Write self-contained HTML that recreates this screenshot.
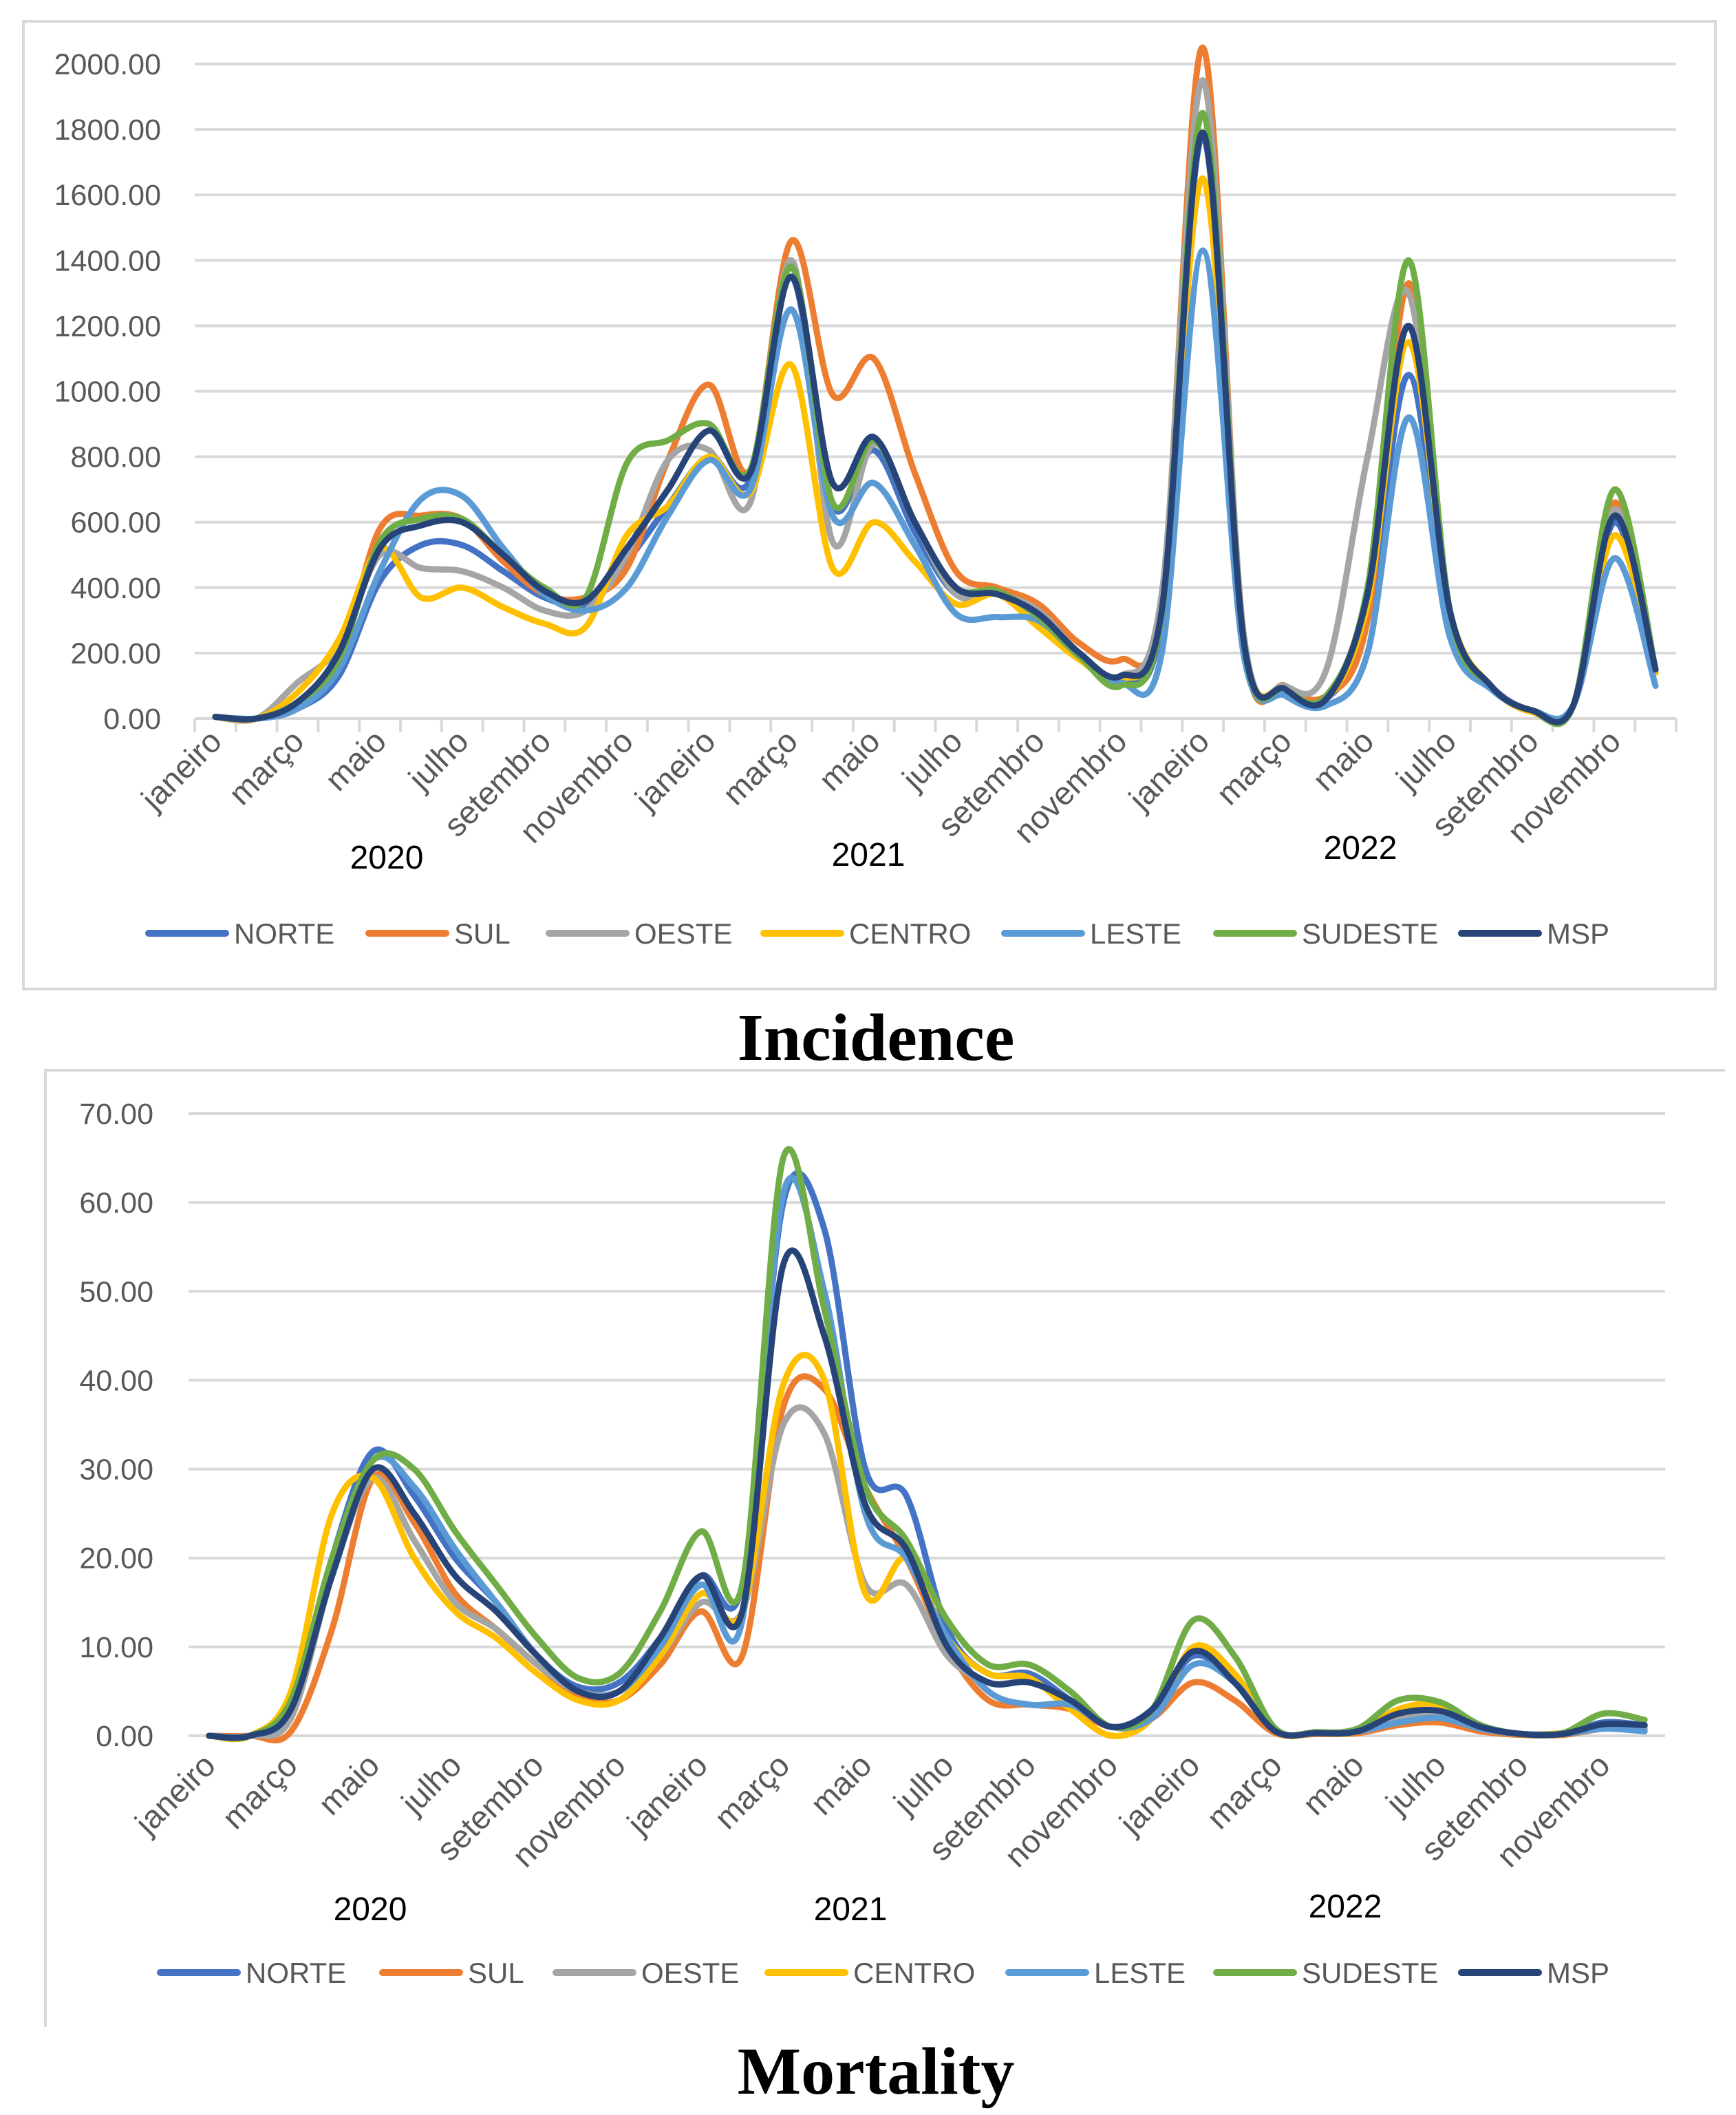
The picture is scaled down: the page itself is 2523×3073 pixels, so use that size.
<!DOCTYPE html>
<html><head><meta charset="utf-8"><style>
html,body{margin:0;padding:0;background:#fff}
svg{display:block}
text{font-family:"Liberation Sans",Arial,sans-serif}
</style></head><body>
<svg id="root" width="2523" height="3073" viewBox="0 0 2523 3073" xmlns="http://www.w3.org/2000/svg">
<rect x="34" y="31" width="2459" height="1406" fill="#fff" stroke="#d9d9d9" stroke-width="4"/>
<path d="M66 2945 V1555 H2507" fill="none" stroke="#d9d9d9" stroke-width="4"/>
<g id="chart1"></g>
<g id="chart2"></g>
<text x="1273" y="1540" text-anchor="middle" font-weight="bold" font-size="98" style="font-family:'Liberation Serif',serif">Incidence</text>
<text x="1273" y="3042" text-anchor="middle" font-weight="bold" font-size="98" style="font-family:'Liberation Serif',serif">Mortality</text>
</svg>
<script>
const monthLabels = ["janeiro","","março","","maio","","julho","","setembro","","novembro",""];
const yearLabels = ["2020","2021","2022"];
const seriesNames = ["NORTE","SUL","OESTE","CENTRO","LESTE","SUDESTE","MSP"];
const seriesColors = ["#4472C4","#ED7D31","#A5A5A5","#FFC000","#5B9BD5","#70AD47","#264478"];

const incTicks = [0,200,400,600,800,1000,1200,1400,1600,1800,2000];
const incNorte   = [5,0,30,130,420,530,530,450,370,350,480,650, 800,730,1350,650,820,570,380,380,320,200,120,300, 1780,220,90,60,300,1050,300,100,25,40,600,140];
const incSul     = [5,0,50,180,580,620,610,480,380,370,460,790, 1020,760,1460,990,1100,750,450,400,350,230,180,360, 2050,230,100,70,300,1330,330,100,25,40,660,140];
const incOeste   = [5,0,110,220,500,460,450,400,330,330,500,790, 820,660,1400,540,840,600,380,380,330,200,130,380, 1950,250,100,150,800,1300,330,100,20,40,640,150];
const incCentro  = [5,0,80,240,520,370,400,340,290,280,560,650, 800,690,1080,460,600,480,350,380,280,180,120,320, 1650,220,90,60,350,1150,330,100,20,40,560,140];
const incLeste   = [5,0,30,150,450,670,680,520,380,330,400,620, 790,700,1250,620,720,530,320,310,300,190,110,200, 1430,190,70,40,200,920,250,90,25,40,490,100];
const incSudeste = [5,0,50,180,540,610,610,500,400,370,780,850, 900,760,1380,660,850,600,400,390,310,190,100,320, 1850,230,90,70,400,1400,330,100,25,40,700,150];
const incMsp     = [5,0,50,200,520,590,600,500,390,360,520,700, 880,750,1350,720,860,600,400,380,320,200,130,330, 1790,230,90,60,380,1200,330,100,25,40,620,150];

const morTicks = [0,10,20,30,40,50,60,70];
const morNorte   = [0,0,3,20,32,27,20,15,9,5.5,6,11, 18,17,60,57,30,27,12,7,7,4,1,3, 9,6,0.5,0.3,0.5,2,2.5,1,0.2,0.2,1.5,1.2];
const morSul     = [0,0,0.5,12,29,24,16,12,8,4.5,4,8, 14,9,37,39,28,20,10,4,3.5,3,1,2, 6,4,0.3,0.2,0.3,1.2,1.5,0.5,0.1,0.1,0.8,0.8];
const morOeste   = [0,0,2,18,29,22,15,12,8,5,5,9, 15,14,35,34,17,17,9,6,6,4,1,2, 10,7,0.5,0.3,0.5,2,2.5,1,0.2,0.2,1,1];
const morCentro  = [0,0,5,25,29,20,14,11,7,4,4,9, 16,14,39.5,40,16,20,11,7,6.5,3,0,2, 10,7,0.5,0.3,0.5,3,3.5,1,0.2,0.3,1,0.5];
const morLeste   = [0,0,3,19,31,28,21,15,9,5,5,10, 17,13,61,50,25,20,11,5,3.5,3.5,1,2, 8,6,0.5,0.3,0.5,1.5,2,0.8,0.2,0.2,0.8,0.5];
const morSudeste = [0,0,4,20,31,30,23,17,11,6.5,7,14, 23,17,65,48,28,22,13,8,8,5,1,3, 13,9,0.8,0.4,0.8,4,3.8,1.2,0.2,0.3,2.5,1.8];
const morMsp     = [0,0,3,18,30,25,18,14,9,5,5,11, 18,14,53,45,26,21,10,6,6,4,1,3, 9.5,6,0.5,0.3,0.5,2.5,2.8,1,0.2,0.2,1.3,1.2];

const NS="http://www.w3.org/2000/svg";
function mk(tag, attrs, parent){const e=document.createElementNS(NS,tag);for(const k in attrs)e.setAttribute(k,attrs[k]);parent.appendChild(e);return e;}

function smoothPath(pts){
  let d="M"+pts[0][0].toFixed(1)+" "+pts[0][1].toFixed(1);
  for(let i=0;i<pts.length-1;i++){
    const p0=pts[Math.max(0,i-1)],p1=pts[i],p2=pts[i+1],p3=pts[Math.min(pts.length-1,i+2)];
    const t=6;
    const c1=[p1[0]+(p2[0]-p0[0])/t,p1[1]+(p2[1]-p0[1])/t];
    const c2=[p2[0]-(p3[0]-p1[0])/t,p2[1]-(p3[1]-p1[1])/t];
    d+=" C"+c1[0].toFixed(1)+" "+c1[1].toFixed(1)+" "+c2[0].toFixed(1)+" "+c2[1].toFixed(1)+" "+p2[0].toFixed(1)+" "+p2[1].toFixed(1);
  }
  return d;
}

function drawChart(g, cfg){
  const n=36;
  const cw=(cfg.right-cfg.left)/n;
  const xS=i=>cfg.left+cw*(i+0.5);
  const yS=v=>cfg.y0-(v-0)/(cfg.max)*(cfg.y0-cfg.yTop);
  cfg.ticks.forEach(t=>{
    const y=yS(t);
    const gl=mk("line",{x1:cfg.left,x2:cfg.right,y1:y,y2:y,stroke:"#d9d9d9","stroke-width":4},g);
    
    
    const tl=mk("text",{x:cfg.labelRight,y:y+15,"text-anchor":"end","font-size":43,fill:"#595959"},g);
    tl.textContent=t.toFixed(2);
    
    
  });
  if(cfg.tickMarks){
    for(let i=0;i<=n;i++){
      const x=cfg.left+cw*i;
      const tm=mk("line",{x1:x,x2:x,y1:cfg.y0,y2:cfg.y0+20,stroke:"#d9d9d9","stroke-width":4},g);
      
      
    }
  }
  for(let i=0;i<n;i++){
    const lab=monthLabels[i%12];
    if(!lab)continue;
    const x=xS(i)+12,y=cfg.y0+cfg.labOff;
    const t=mk("text",{x:x,y:y,"text-anchor":"end","font-size":47,fill:"#595959",transform:"rotate(-45 "+x+" "+y+")"},g);
    t.textContent=lab;
    
    
  }
  yearLabels.forEach((yl,k)=>{
    const t=mk("text",{x:cfg.yearX[k],y:cfg.yearY[k],"text-anchor":"middle","font-size":48,fill:"#000"},g);
    t.textContent=yl;
    
    
  });
  cfg.series.forEach((vals,s)=>{
    const pts=vals.map((v,i)=>[xS(i),yS(v)]);
    const p=mk("path",{d:smoothPath(pts),fill:"none",stroke:seriesColors[s],"stroke-width":9,"stroke-linejoin":"round","stroke-linecap":"round"},g);
    
    
  });
  seriesNames.forEach((nm,s)=>{
    const lx=cfg.legX[s];
    const lg=mk("g",{},g);
    
    
    mk("line",{x1:lx,x2:lx+112,y1:cfg.legY,y2:cfg.legY,stroke:seriesColors[s],"stroke-width":10,"stroke-linecap":"round"},lg);
    const t=mk("text",{x:lx+124,y:cfg.legY+15,"font-size":42,fill:"#595959"},lg);
    t.textContent=nm;
  });
}

drawChart(document.getElementById("chart1"),{
  left:283,right:2436,y0:1044,yTop:93,max:2000,ticks:incTicks,labelRight:234,tickMarks:true,labOff:36,
  yearX:[562,1262,1977],yearY:[1262,1258,1248],legY:1356,
  legX:[216,536,798,1110,1460,1768,2124],
  series:[incNorte,incSul,incOeste,incCentro,incLeste,incSudeste,incMsp]
});
drawChart(document.getElementById("chart2"),{
  left:274,right:2420,y0:2522,yTop:1618,max:70,ticks:morTicks,labelRight:223,tickMarks:false,labOff:46,
  yearX:[538,1236,1955],yearY:[2790,2790,2786],legY:2866,
  legX:[233,556,808,1116,1466,1768,2124],
  series:[morNorte,morSul,morOeste,morCentro,morLeste,morSudeste,morMsp]
});
</script>
</body></html>
